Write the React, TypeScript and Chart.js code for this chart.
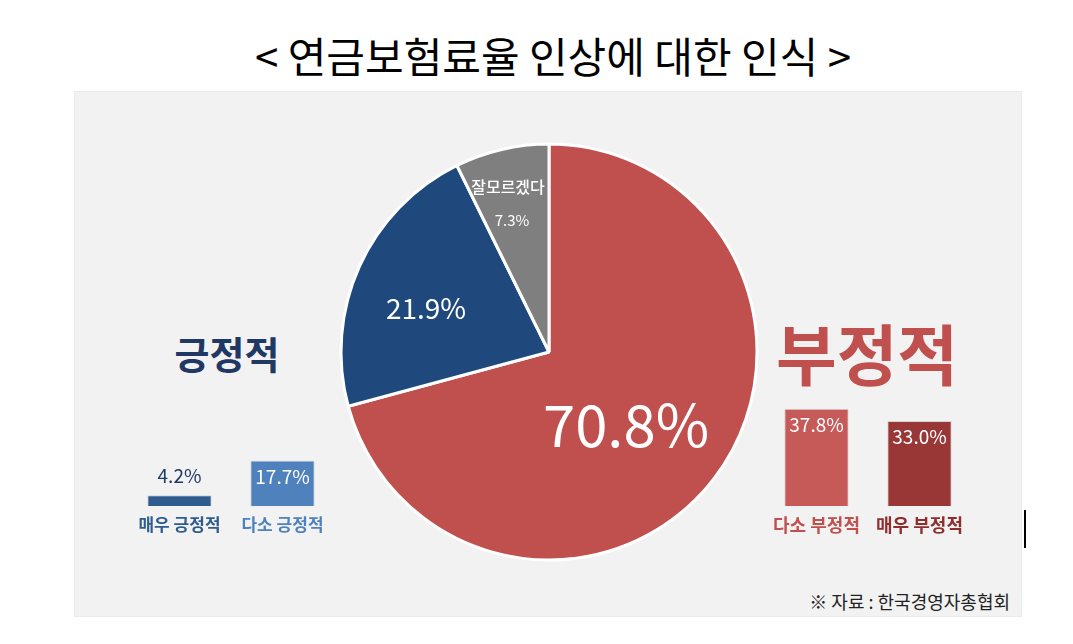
import React, { useEffect, useRef } from "react";
import { Chart, registerables } from "chart.js";
Chart.register(...registerables);

const TITLE = "< 연금보험료율 인상에 대한 인식 >";
const pieLabels = ["부정적", "긍정적", "잘모르겠다"];
const pieValues = [70.8, 21.9, 7.3];
const pieColors = ["#C0504D", "#1F497D", "#7F7F7F"];

const posLabels = ["매우 긍정적", "다소 긍정적"];
const posValues = [4.2, 17.7];
const posColors = ["#2F5C8F", "#4F81BD"];
const posTextColors = ["#2F5C8F", "#4F81BD"];

const negLabels = ["다소 부정적", "매우 부정적"];
const negValues = [37.8, 33.0];
const negColors = ["#C55A59", "#983735"];
const negTextColors = ["#C0504D", "#8E2F2D"];

const SOURCE = "※ 자료 : 한국경영자총협회";
const FONT = "'Noto Sans CJK KR', 'Noto Sans', sans-serif";

// per-slice label offsets from the pie centre (style only)
const pieLabelOffsets = [
  { dx: 77, dy: 73, size: 58 },
  { dx: -123, dy: -44, size: 28 },
  { dx: -37, dy: -132, size: 15 },
];

function PieChart() {
  const ref = useRef<HTMLCanvasElement>(null);
  useEffect(() => {
    const labelPlugin = {
      id: "pieLabels",
      afterDatasetsDraw(chart: any) {
        const ctx = chart.ctx;
        const arc = chart.getDatasetMeta(0).data[0];
        const cx = arc.x, cy = arc.y;
        ctx.save();
        ctx.fillStyle = "#ffffff";
        ctx.textAlign = "center";
        ctx.textBaseline = "middle";
        pieValues.forEach((v, i) => {
          const o = pieLabelOffsets[i];
          ctx.font = `400 ${o.size}px ${FONT}`;
          ctx.fillText(v.toFixed(1) + "%", cx + o.dx, cy + o.dy);
        });
        ctx.font = `500 16px ${FONT}`;
        ctx.fillText(pieLabels[2], cx - 41, cy - 165);
        ctx.restore();
      },
    };
    const chart = new Chart(ref.current!, {
      type: "pie",
      data: {
        labels: pieLabels,
        datasets: [
          {
            data: pieValues,
            backgroundColor: pieColors,
            borderColor: "#ffffff",
            borderWidth: 3,
          },
        ],
      },
      options: {
        animation: false,
        responsive: false,
        radius: 208,
        layout: { padding: 0 },
        plugins: { legend: { display: false }, tooltip: { enabled: false } },
      },
      plugins: [labelPlugin],
    });
    return () => chart.destroy();
  }, []);
  return (
    <canvas
      ref={ref}
      width={460}
      height={460}
      style={{ position: "absolute", left: 319, top: 122, width: 460, height: 460 }}
    />
  );
}

function SmallBars(props: {
  labels: string[];
  values: number[];
  colors: string[];
  textColors: string[];
  left: number;
  labelSize: number;
  outside: boolean[];
}) {
  const ref = useRef<HTMLCanvasElement>(null);
  useEffect(() => {
    const plug = {
      id: "barLabels",
      afterDatasetsDraw(chart: any) {
        const ctx = chart.ctx;
        const meta = chart.getDatasetMeta(0);
        ctx.save();
        ctx.textAlign = "center";
        ctx.textBaseline = "middle";
        meta.data.forEach((bar: any, i: number) => {
          const v = props.values[i];
          ctx.font = `400 19px ${FONT}`;
          if (props.outside[i]) {
            ctx.fillStyle = "#1F3864";
            ctx.fillText(v.toFixed(1) + "%", bar.x, bar.y - 19);
          } else {
            ctx.fillStyle = "#ffffff";
            ctx.fillText(v.toFixed(1) + "%", bar.x, bar.y + 16);
          }
          ctx.font = `700 ${props.labelSize}px ${FONT}`;
          ctx.fillStyle = props.textColors[i];
          ctx.fillText(props.labels[i], bar.x, bar.base + 19);
        });
        ctx.restore();
      },
    };
    const chart = new Chart(ref.current!, {
      type: "bar",
      data: {
        labels: props.labels,
        datasets: [
          {
            data: props.values,
            backgroundColor: props.colors,
            borderColor: "rgba(0,0,0,0.12)",
            borderWidth: 1,
            barPercentage: 0.625,
            categoryPercentage: 1,
          },
        ],
      },
      options: {
        animation: false,
        responsive: false,
        layout: { padding: { top: 30, bottom: 39, left: 0, right: 0 } },
        scales: {
          x: { display: false },
          y: { display: false, min: 0, max: 40 },
        },
        plugins: { legend: { display: false }, tooltip: { enabled: false } },
      },
      plugins: [plug],
    });
    return () => chart.destroy();
  }, []);
  return (
    <canvas
      ref={ref}
      width={206}
      height={172}
      style={{ position: "absolute", left: props.left, top: 373, width: 206, height: 172 }}
    />
  );
}

export default function App() {
  return (
    <div
      style={{
        position: "fixed",
        left: 0,
        top: 0,
        width: 1073,
        height: 644,
        background: "#ffffff",
        fontFamily: FONT,
        overflow: "hidden",
      }}
    >
      <div
        style={{
          position: "absolute",
          left: 0,
          width: 1106,
          top: 28,
          textAlign: "center",
          fontSize: 42,
          lineHeight: "54px",
          color: "#000",
          whiteSpace: "pre",
        }}
      >
        {TITLE}
      </div>
      <div
        style={{
          position: "absolute",
          left: 74,
          top: 91,
          width: 946,
          height: 524,
          background: "#F2F2F2",
          border: "1px solid #EBEBEB",
        }}
      />
      <div
        style={{
          position: "absolute",
          left: 127,
          width: 200,
          top: 327,
          textAlign: "center",
          fontSize: 38,
          fontWeight: 700,
          lineHeight: "52px",
          color: "#1F3864",
        }}
      >
        {pieLabels[1]}
      </div>
      <div
        style={{
          position: "absolute",
          left: 747,
          width: 240,
          top: 306,
          textAlign: "center",
          fontSize: 66,
          fontWeight: 700,
          lineHeight: "90px",
          color: "#C0504D",
        }}
      >
        {pieLabels[0]}
      </div>
      <PieChart />
      <SmallBars
        labels={posLabels}
        values={posValues}
        colors={posColors}
        textColors={posTextColors}
        left={128}
        labelSize={17}
        outside={[true, false]}
      />
      <SmallBars
        labels={negLabels}
        values={negValues}
        colors={negColors}
        textColors={negTextColors}
        left={765}
        labelSize={18}
        outside={[false, false]}
      />
      <div
        style={{
          position: "absolute",
          right: 1073 - 1010,
          top: 588,
          fontSize: 18,
          lineHeight: "26px",
          color: "#222",
          whiteSpace: "pre",
        }}
      >
        {SOURCE}
      </div>
      <div
        style={{ position: "absolute", left: 1024, top: 510, width: 2, height: 38, background: "#000" }}
      />
    </div>
  );
}
